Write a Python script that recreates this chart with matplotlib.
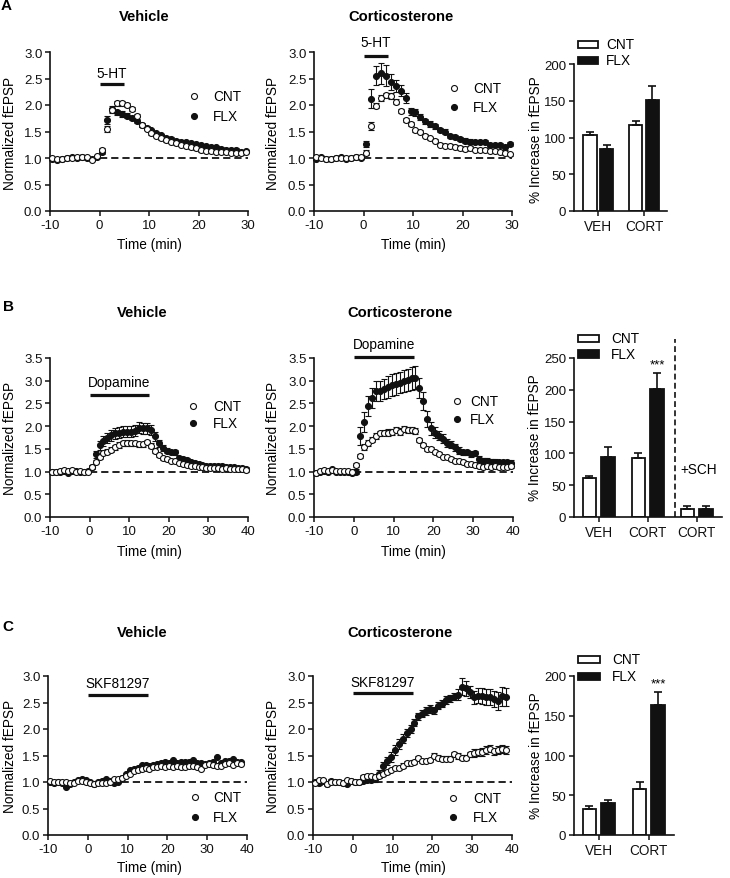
import numpy as np
import matplotlib
matplotlib.use("Agg")
import matplotlib.pyplot as plt
from matplotlib.lines import Line2D
from matplotlib.patches import Rectangle
from matplotlib.ticker import FormatStrFormatter

plt.rcParams['font.family'] = ['Liberation Sans', 'DejaVu Sans']
plt.rcParams['axes.unicode_minus'] = False

# ---------------- data ----------------
TIME_A = np.arange(-9.5, 30, 1.0)   # 40 samples, 1 min
TIME_B = np.arange(-9.5, 40, 1.0)   # 50 samples
TIME_C = np.arange(-9.5, 39, 1.0)   # 49 samples

# Panel A - 5-HT
A_VEH_CNT = [1.00, 0.98, 0.99, 1.00, 1.00, 1.01, 1.01, 1.02, 0.97, 1.03,
             1.16, 1.55, 1.90, 2.03, 2.03, 2.00, 1.93, 1.80, 1.62, 1.55,
             1.47, 1.42, 1.37, 1.34, 1.31, 1.28, 1.25, 1.23, 1.20, 1.18,
             1.15, 1.14, 1.13, 1.12, 1.12, 1.11, 1.10, 1.10, 1.09, 1.12]
A_VEH_CNT_ERR = [0.02, 0.02, 0.02, 0.02, 0.02, 0.02, 0.02, 0.02, 0.02, 0.02,
                 0.03, 0.05, 0.05, 0.04, 0.04, 0.04, 0.04, 0.03, 0.03, 0.03,
                 0.03, 0.03, 0.03, 0.03, 0.03, 0.03, 0.03, 0.03, 0.03, 0.03,
                 0.03, 0.03, 0.03, 0.03, 0.03, 0.03, 0.03, 0.03, 0.03, 0.03]
A_VEH_FLX = [0.99, 0.97, 0.98, 1.00, 1.01, 1.00, 1.01, 1.00, 0.98, 1.02,
             1.12, 1.72, 1.92, 1.86, 1.83, 1.80, 1.75, 1.70, 1.62, 1.57,
             1.52, 1.47, 1.43, 1.38, 1.36, 1.33, 1.31, 1.30, 1.28, 1.26,
             1.24, 1.22, 1.21, 1.20, 1.17, 1.16, 1.16, 1.15, 1.12, 1.13]
A_VEH_FLX_ERR = [0.02, 0.02, 0.02, 0.02, 0.02, 0.02, 0.02, 0.02, 0.02, 0.02,
                 0.05, 0.07, 0.06, 0.05, 0.05, 0.05, 0.04, 0.04, 0.04, 0.04,
                 0.03, 0.03, 0.03, 0.03, 0.03, 0.03, 0.03, 0.03, 0.03, 0.03,
                 0.03, 0.03, 0.03, 0.03, 0.03, 0.03, 0.03, 0.03, 0.03, 0.03]
A_CORT_CNT = [1.01, 1.00, 0.98, 0.99, 1.00, 1.00, 1.00, 1.00, 1.02, 1.02,
              1.10, 1.60, 1.99, 2.13, 2.18, 2.17, 2.06, 1.88, 1.72, 1.64,
              1.52, 1.50, 1.42, 1.37, 1.33, 1.25, 1.23, 1.23, 1.21, 1.19,
              1.17, 1.19, 1.16, 1.16, 1.16, 1.14, 1.14, 1.12, 1.09, 1.07]
A_CORT_CNT_ERR = [0.02, 0.02, 0.02, 0.02, 0.02, 0.02, 0.02, 0.02, 0.02, 0.02,
                  0.05, 0.08, 0.05, 0.05, 0.05, 0.05, 0.05, 0.04, 0.04, 0.04,
                  0.03, 0.03, 0.03, 0.03, 0.03, 0.03, 0.03, 0.03, 0.03, 0.03,
                  0.03, 0.03, 0.03, 0.03, 0.03, 0.03, 0.03, 0.03, 0.03, 0.03]
A_CORT_FLX = [0.99, 1.01, 0.99, 0.98, 1.00, 1.01, 0.99, 1.00, 1.01, 1.00,
              1.26, 2.12, 2.55, 2.60, 2.55, 2.44, 2.36, 2.27, 2.13, 1.88,
              1.86, 1.77, 1.69, 1.64, 1.60, 1.53, 1.50, 1.42, 1.39, 1.36,
              1.33, 1.31, 1.30, 1.30, 1.30, 1.25, 1.25, 1.25, 1.20, 1.26]
A_CORT_FLX_ERR = [0.02, 0.02, 0.02, 0.02, 0.02, 0.02, 0.02, 0.02, 0.02, 0.02,
                  0.06, 0.18, 0.18, 0.20, 0.20, 0.15, 0.12, 0.10, 0.10, 0.07,
                  0.06, 0.06, 0.05, 0.05, 0.05, 0.04, 0.04, 0.04, 0.04, 0.04,
                  0.04, 0.04, 0.04, 0.04, 0.04, 0.04, 0.04, 0.04, 0.04, 0.04]

# Panel B - dopamine
B_VEH_CNT = [0.99, 1.00, 1.02, 1.03, 1.02, 1.03, 1.00, 1.01, 1.00, 1.00,
             1.10, 1.22, 1.32, 1.41, 1.44, 1.48, 1.53, 1.58, 1.62, 1.63,
             1.62, 1.62, 1.60, 1.60, 1.64, 1.57, 1.46, 1.37, 1.30, 1.28,
             1.24, 1.23, 1.19, 1.17, 1.15, 1.13, 1.12, 1.10, 1.09, 1.08,
             1.08, 1.07, 1.07, 1.06, 1.07, 1.06, 1.05, 1.06, 1.05, 1.03]
B_VEH_CNT_ERR = [0.02, 0.02, 0.02, 0.02, 0.02, 0.02, 0.02, 0.02, 0.02, 0.02,
                 0.03, 0.04, 0.05, 0.05, 0.05, 0.05, 0.06, 0.06, 0.06, 0.06,
                 0.06, 0.06, 0.06, 0.06, 0.06, 0.05, 0.05, 0.04, 0.04, 0.04,
                 0.03, 0.03, 0.03, 0.03, 0.03, 0.03, 0.03, 0.03, 0.03, 0.03,
                 0.03, 0.03, 0.03, 0.03, 0.03, 0.03, 0.03, 0.03, 0.03, 0.03]
B_VEH_FLX = [1.00, 0.99, 0.98, 1.01, 0.97, 1.02, 1.01, 1.00, 1.00, 1.01,
             1.10, 1.38, 1.58, 1.68, 1.74, 1.80, 1.84, 1.86, 1.88, 1.88,
             1.88, 1.90, 1.97, 1.95, 1.95, 1.92, 1.78, 1.62, 1.52, 1.46,
             1.43, 1.42, 1.30, 1.28, 1.25, 1.21, 1.18, 1.17, 1.15, 1.13,
             1.13, 1.12, 1.13, 1.12, 1.10, 1.09, 1.09, 1.08, 1.08, 1.06]
B_VEH_FLX_ERR = [0.03, 0.03, 0.03, 0.03, 0.03, 0.03, 0.03, 0.03, 0.03, 0.03,
                 0.05, 0.08, 0.10, 0.11, 0.12, 0.12, 0.12, 0.12, 0.12, 0.12,
                 0.12, 0.12, 0.12, 0.12, 0.12, 0.11, 0.10, 0.08, 0.07, 0.06,
                 0.05, 0.05, 0.05, 0.05, 0.05, 0.04, 0.04, 0.04, 0.04, 0.04,
                 0.04, 0.04, 0.04, 0.04, 0.04, 0.04, 0.04, 0.04, 0.04, 0.04]
B_CORT_CNT = [0.96, 1.01, 1.04, 1.01, 1.04, 1.01, 1.01, 1.01, 1.01, 0.99,
              1.14, 1.34, 1.54, 1.63, 1.70, 1.78, 1.84, 1.86, 1.86, 1.87,
              1.91, 1.88, 1.94, 1.92, 1.92, 1.89, 1.69, 1.58, 1.50, 1.50,
              1.43, 1.39, 1.33, 1.31, 1.27, 1.23, 1.23, 1.21, 1.17, 1.16,
              1.14, 1.12, 1.10, 1.12, 1.11, 1.12, 1.10, 1.11, 1.10, 1.12]
B_CORT_CNT_ERR = [0.02, 0.02, 0.02, 0.02, 0.02, 0.02, 0.02, 0.02, 0.02, 0.02,
                  0.04, 0.05, 0.06, 0.06, 0.06, 0.06, 0.06, 0.06, 0.07, 0.07,
                  0.07, 0.07, 0.07, 0.07, 0.07, 0.07, 0.05, 0.05, 0.04, 0.04,
                  0.04, 0.04, 0.04, 0.04, 0.04, 0.04, 0.04, 0.04, 0.04, 0.04,
                  0.04, 0.04, 0.04, 0.04, 0.04, 0.04, 0.04, 0.04, 0.04, 0.04]
B_CORT_FLX = [0.97, 1.00, 1.02, 1.00, 1.05, 1.00, 1.00, 1.00, 0.98, 0.96,
              1.00, 1.78, 2.10, 2.45, 2.63, 2.78, 2.78, 2.82, 2.87, 2.90,
              2.93, 2.96, 3.00, 3.02, 3.05, 3.07, 2.85, 2.56, 2.16, 1.95,
              1.86, 1.79, 1.72, 1.63, 1.59, 1.53, 1.46, 1.42, 1.42, 1.39,
              1.40, 1.28, 1.24, 1.24, 1.22, 1.21, 1.20, 1.20, 1.20, 1.19]
B_CORT_FLX_ERR = [0.03, 0.03, 0.03, 0.03, 0.03, 0.03, 0.03, 0.03, 0.03, 0.03,
                  0.05, 0.20, 0.22, 0.22, 0.22, 0.22, 0.22, 0.22, 0.24, 0.24,
                  0.24, 0.24, 0.24, 0.24, 0.25, 0.26, 0.22, 0.20, 0.17, 0.14,
                  0.12, 0.10, 0.10, 0.08, 0.08, 0.07, 0.07, 0.06, 0.06, 0.06,
                  0.06, 0.06, 0.06, 0.06, 0.06, 0.06, 0.06, 0.06, 0.06, 0.06]

# Panel C - SKF81297
C_VEH_CNT = [1.02, 1.00, 1.00, 1.00, 1.00, 0.98, 0.99, 1.02, 1.01, 1.00,
             0.99, 0.97, 0.98, 0.98, 0.98, 1.00, 1.05, 1.06, 1.08, 1.12,
             1.16, 1.20, 1.23, 1.24, 1.26, 1.25, 1.28, 1.28, 1.30, 1.28,
             1.31, 1.28, 1.30, 1.28, 1.28, 1.30, 1.30, 1.28, 1.25, 1.33,
             1.34, 1.33, 1.31, 1.31, 1.34, 1.36, 1.33, 1.36, 1.34]
C_VEH_FLX = [1.00, 0.99, 1.00, 0.98, 0.91, 0.97, 1.00, 1.03, 1.06, 1.03,
             1.00, 0.97, 1.00, 1.02, 1.06, 1.02, 0.98, 1.00, 1.08, 1.15,
             1.22, 1.24, 1.27, 1.33, 1.33, 1.30, 1.32, 1.34, 1.36, 1.38,
             1.36, 1.41, 1.35, 1.38, 1.38, 1.37, 1.41, 1.36, 1.35, 1.34,
             1.36, 1.37, 1.48, 1.36, 1.39, 1.40, 1.44, 1.38, 1.37]
C_CORT_CNT = [0.99, 1.04, 1.04, 0.97, 1.00, 1.00, 1.00, 0.99, 1.04, 1.02,
              1.00, 1.00, 1.10, 1.12, 1.12, 1.09, 1.11, 1.15, 1.19, 1.23,
              1.26, 1.27, 1.31, 1.35, 1.36, 1.38, 1.45, 1.40, 1.40, 1.42,
              1.50, 1.46, 1.44, 1.44, 1.44, 1.52, 1.49, 1.46, 1.46, 1.52,
              1.55, 1.56, 1.57, 1.60, 1.63, 1.58, 1.60, 1.62, 1.60]
C_CORT_CNT_ERR = [0.02, 0.02, 0.02, 0.02, 0.02, 0.02, 0.02, 0.02, 0.02, 0.02,
                  0.03, 0.03, 0.03, 0.03, 0.03, 0.03, 0.03, 0.03, 0.03, 0.03,
                  0.04, 0.04, 0.04, 0.04, 0.04, 0.04, 0.04, 0.04, 0.04, 0.04,
                  0.05, 0.05, 0.05, 0.05, 0.05, 0.05, 0.05, 0.05, 0.05, 0.05,
                  0.07, 0.07, 0.07, 0.07, 0.07, 0.07, 0.07, 0.07, 0.07]
C_CORT_FLX = [1.00, 0.98, 1.02, 0.97, 1.02, 1.00, 1.00, 0.98, 0.97, 1.02,
              1.00, 1.00, 1.02, 1.03, 1.03, 1.05, 1.15, 1.30, 1.40, 1.47,
              1.60, 1.72, 1.82, 1.92, 2.00, 2.12, 2.24, 2.29, 2.34, 2.38,
              2.35, 2.44, 2.48, 2.55, 2.58, 2.61, 2.65, 2.80, 2.77, 2.70,
              2.60, 2.63, 2.62, 2.60, 2.60, 2.57, 2.53, 2.62, 2.60]
C_CORT_FLX_ERR = [0.03, 0.03, 0.03, 0.03, 0.03, 0.03, 0.03, 0.03, 0.03, 0.03,
                  0.03, 0.03, 0.03, 0.03, 0.03, 0.05, 0.07, 0.08, 0.08, 0.09,
                  0.09, 0.09, 0.08, 0.08, 0.07, 0.07, 0.07, 0.07, 0.07, 0.07,
                  0.07, 0.07, 0.07, 0.07, 0.07, 0.07, 0.10, 0.16, 0.14, 0.12,
                  0.12, 0.14, 0.15, 0.15, 0.15, 0.15, 0.17, 0.18, 0.17]

# Bar summaries (% increase in fEPSP)
A_GROUPS = ['VEH', 'CORT']
A_BAR_CNT = [104, 117]
A_BAR_CNT_ERR = [4, 5]
A_BAR_FLX = [85, 151]
A_BAR_FLX_ERR = [5, 19]

B_GROUPS = ['VEH', 'CORT', 'CORT']
B_BAR_CNT = [61, 92, 12]
B_BAR_CNT_ERR = [4, 9, 5]
B_BAR_FLX = [94, 202, 12]
B_BAR_FLX_ERR = [16, 25, 5]

C_GROUPS = ['VEH', 'CORT']
C_BAR_CNT = [33, 58]
C_BAR_CNT_ERR = [3.5, 9]
C_BAR_FLX = [40, 163]
C_BAR_FLX_ERR = [4, 17]

# ---------------- figure ----------------
W, H = 730, 879
fig = plt.figure(figsize=(W / 100, H / 100), dpi=100)
fig.patch.set_facecolor('white')

TICK_FS = 9.5
LAB_FS = 9.8
LEG_FS = 9.8
TITLE_FS = 10.6
MS = 4.3
INK = '#111111'


def axpx(l, t, r, b):
    return fig.add_axes([l / W, 1 - b / H, (r - l) / W, (b - t) / H])


def fx(x):
    return x / W


def fy(y):
    return 1 - y / H


def style(ax):
    for s in ('top', 'right'):
        ax.spines[s].set_visible(False)
    for s in ('left', 'bottom'):
        ax.spines[s].set_linewidth(1.2)
        ax.spines[s].set_color(INK)
    ax.tick_params(direction='out', length=3.5, width=1.1, pad=2,
                   labelsize=TICK_FS, colors=INK)
    ax.patch.set_alpha(0)


def timecourse(ax, t, cnt, cerr, flx, ferr, xlim, ylim, yticks, xticks,
               drug_name, drug_span, drug_y, drug_label_y):
    style(ax)
    ax.plot([0, xlim[1]], [1, 1], ls=(0, (4, 2.2)), color=INK, lw=1.3, zorder=1)
    ekw = dict(fmt='o', ms=MS, mec=INK, mew=0.8, ecolor=INK,
               elinewidth=0.8, capsize=2, capthick=0.8, clip_on=False)
    ax.errorbar(t, flx, yerr=ferr, mfc=INK, zorder=3, **ekw)
    ax.errorbar(t, cnt, yerr=cerr, mfc='white', zorder=4, **ekw)
    ax.set_xlim(*xlim)
    ax.set_ylim(*ylim)
    ax.set_yticks(yticks)
    ax.set_xticks(xticks)
    ax.yaxis.set_major_formatter(FormatStrFormatter('%.1f'))
    ax.plot(drug_span, [drug_y, drug_y], color=INK, lw=2.3,
            solid_capstyle='butt', clip_on=False, zorder=5)
    ax.text(np.mean(drug_span), drug_label_y, drug_name, ha='center', va='center',
            fontsize=LAB_FS, clip_on=False)


def bars(ax, groups, cnt, cerr, flx, ferr, xlim, ylim, yticks, off, width):
    style(ax)
    x = np.arange(len(groups))
    ax.bar(x - off, cnt, width=width, color='white', edgecolor=INK, lw=1.3, zorder=2)
    ax.bar(x + off, flx, width=width, color=INK, edgecolor=INK, lw=1.3, zorder=2)
    z = np.zeros(len(groups))
    ax.errorbar(x - off, cnt, yerr=[z, cerr], fmt='none', ecolor=INK,
                elinewidth=1.2, capsize=3.2, capthick=1.2, zorder=3)
    ax.errorbar(x + off, flx, yerr=[z, ferr], fmt='none', ecolor=INK,
                elinewidth=1.2, capsize=3.2, capthick=1.2, zorder=3)
    ax.set_xlim(*xlim)
    ax.set_ylim(*ylim)
    ax.set_yticks(yticks)
    ax.set_xticks(x)
    ax.set_xticklabels(groups, fontsize=LAB_FS)
    return x


def line_legend(xm, y1, y2, xt):
    fig.add_artist(Line2D([fx(xm)], [fy(y1)], transform=fig.transFigure, marker='o',
                          ms=MS, mfc='white', mec=INK, mew=0.8, ls='none'))
    fig.add_artist(Line2D([fx(xm)], [fy(y2)], transform=fig.transFigure, marker='o',
                          ms=MS, mfc=INK, mec=INK, mew=0.8, ls='none'))
    fig.text(fx(xt), fy(y1), 'CNT', fontsize=LEG_FS, va='center', ha='left')
    fig.text(fx(xt), fy(y2), 'FLX', fontsize=LEG_FS, va='center', ha='left')


def bar_legend(x0, x1, y1, y2, hh, xt):
    for y, fc in ((y1, 'white'), (y2, INK)):
        fig.add_artist(Rectangle((fx(x0), fy(y + hh / 2)), (x1 - x0) / W, hh / H,
                                 transform=fig.transFigure, facecolor=fc,
                                 edgecolor=INK, lw=1.3))
    fig.text(fx(xt), fy(y1), 'CNT', fontsize=LEG_FS, va='center', ha='left')
    fig.text(fx(xt), fy(y2), 'FLX', fontsize=LEG_FS, va='center', ha='left')


def ylab(x, y, s):
    fig.text(fx(x), fy(y), s, rotation=90, ha='center', va='center', fontsize=LAB_FS)


def xlab(x, y, s):
    fig.text(fx(x), fy(y), s, ha='center', va='center', fontsize=LAB_FS)


def title(x, y, s):
    fig.text(fx(x), fy(y), s, ha='center', va='center', fontsize=TITLE_FS, fontweight='bold')


# ---- Row A ----
yt3 = [0.0, 0.5, 1.0, 1.5, 2.0, 2.5, 3.0]
yt35 = [0.0, 0.5, 1.0, 1.5, 2.0, 2.5, 3.0, 3.5]
xtA = [-10, 0, 10, 20, 30]
xtB = [-10, 0, 10, 20, 30, 40]

axA1 = axpx(50, 53, 248, 212)
timecourse(axA1, TIME_A, A_VEH_CNT, A_VEH_CNT_ERR, A_VEH_FLX, A_VEH_FLX_ERR,
           (-10, 30), (0, 3), yt3, xtA, '5-HT', [0, 5], 2.4, 2.6)
axA2 = axpx(314, 53, 512, 212)
timecourse(axA2, TIME_A, A_CORT_CNT, A_CORT_CNT_ERR, A_CORT_FLX, A_CORT_FLX_ERR,
           (-10, 30), (0, 3), yt3, xtA, '5-HT', [0, 5], 2.92, 3.18)
axA3 = axpx(574, 65, 667, 212)
bars(axA3, A_GROUPS, A_BAR_CNT, A_BAR_CNT_ERR, A_BAR_FLX, A_BAR_FLX_ERR,
     (-0.53, 1.5), (0, 200), [0, 50, 100, 150, 200], 0.18, 0.29)

# ---- Row B ----
axB1 = axpx(50, 359, 248, 518)
timecourse(axB1, TIME_B, B_VEH_CNT, B_VEH_CNT_ERR, B_VEH_FLX, B_VEH_FLX_ERR,
           (-10, 40), (0, 3.5), yt35, xtB, 'Dopamine', [0, 15], 2.69, 2.98)
axB2 = axpx(314, 359, 513, 518)
timecourse(axB2, TIME_B, B_CORT_CNT, B_CORT_CNT_ERR, B_CORT_FLX, B_CORT_FLX_ERR,
           (-10, 40), (0, 3.5), yt35, xtB, 'Dopamine', [0, 15], 3.53, 3.80)
axB3 = axpx(574, 359, 722, 518)
bars(axB3, B_GROUPS, B_BAR_CNT, B_BAR_CNT_ERR, B_BAR_FLX, B_BAR_FLX_ERR,
     (-0.507, 2.52), (0, 250), [0, 50, 100, 150, 200, 250], 0.19, 0.274)
axB3.plot([1.56, 1.56], [0, 280], ls=(0, (3.5, 2)), color=INK, lw=1.2, clip_on=False)
axB3.text(2.05, 76, '+SCH', ha='center', va='center', fontsize=LAB_FS)
axB3.text(1.19, 240, '***', ha='center', va='center', fontsize=9.5)

# ---- Row C ----
axC1 = axpx(48, 677, 247, 836)
timecourse(axC1, TIME_C, C_VEH_CNT, None, C_VEH_FLX, None,
           (-10, 40), (0, 3), yt3, xtB, 'SKF81297', [0, 15], 2.65, 2.87)
axC2 = axpx(313, 677, 512, 836)
timecourse(axC2, TIME_C, C_CORT_CNT, C_CORT_CNT_ERR, C_CORT_FLX, C_CORT_FLX_ERR,
           (-10, 40), (0, 3), yt3, xtB, 'SKF81297', [0, 15], 2.67, 2.89)
axC3 = axpx(574, 677, 674, 836)
bars(axC3, C_GROUPS, C_BAR_CNT, C_BAR_CNT_ERR, C_BAR_FLX, C_BAR_FLX_ERR,
     (-0.49, 1.5), (0, 200), [0, 50, 100, 150, 200], 0.185, 0.267)
axC3.text(1.185, 191, '***', ha='center', va='center', fontsize=9.5)

# ---- legends ----
line_legend(194, 97, 117, 213)
line_legend(454, 89, 108, 473)
line_legend(193, 407, 424, 213)
line_legend(457, 402, 420, 470)
line_legend(195, 798, 818, 213)
line_legend(453, 799, 818, 473)
bar_legend(578, 598, 45, 61, 7, 606)
bar_legend(578, 599, 339, 355, 7, 611)
bar_legend(578, 600, 660, 677, 7, 612)

# ---- axis labels / titles ----
for yc in (133, 438, 756):
    ylab(10, yc, 'Normalized fEPSP')
    ylab(273, yc, 'Normalized fEPSP')
ylab(536, 140, '% Increase in fEPSP')
ylab(535, 438, '% Increase in fEPSP')
ylab(536, 756, '% Increase in fEPSP')

for yc in (245, 552, 868):
    xlab(149, yc, 'Time (min)')
    xlab(413, yc, 'Time (min)')

title(144, 17, 'Vehicle')
title(401, 17, 'Corticosterone')
title(142, 313, 'Vehicle')
title(400, 313, 'Corticosterone')
title(142, 633, 'Vehicle')
title(400, 633, 'Corticosterone')

fig.text(fx(6), fy(6), 'A', fontsize=11, fontweight='bold', ha='center', va='center')
fig.text(fx(9), fy(307), 'B', fontsize=11, fontweight='bold', ha='center', va='center')
fig.text(fx(8), fy(627), 'C', fontsize=11, fontweight='bold', ha='center', va='center')

fig.savefig('out.png', dpi=100)
